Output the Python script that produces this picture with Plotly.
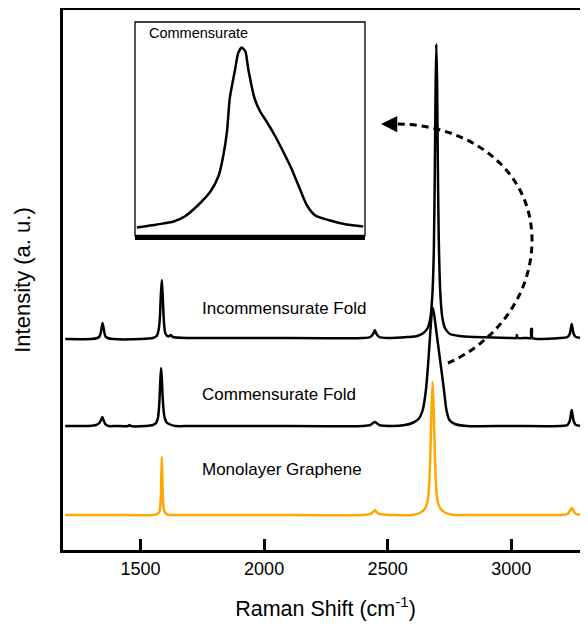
import plotly.graph_objects as go

# ---------------- data (Raman shift in cm^-1, intensity in a.u., offset stacked) -------------
inc_x = [1195,1300,1325,1335,1341,1346,1351,1357,1367,1390,1500,1550,1565,1573,1578,1582,1586,1590,1594,1599,
         1607,1617,1622,1630,1700,2000,2400,2430,2441,2448,2455,2466,2500,2580,2620,2645,2662,2673,2681,2687,
         2691,2694,2697,2700,2703,2707,2713,2721,2732,2752,2790,2850,3000,3020,3023,3026,3060,3079,3081,3084,
         3086,3200,3228,3237,3242,3245,3248,3253,3262,3320]
inc_y = [211,211,212,214,220,227,221,214,212,211,211,212,214,220,232,255,270,252,230,218,
         214,214,215,213,212,212,212,213,216,220,216,213,212,213,214,217,222,232,255,300,
         380,460,506,470,390,310,258,233,222,216,214,213,212,212,215,212,212,212,221,221,
         212,212,213,216,222,226,222,216,213,212]

com_x = [1195,1290,1320,1333,1340,1345,1350,1357,1370,1400,1450,1455,1460,1520,1550,1563,1571,1576,1580,1583,
         1586,1590,1596,1604,1615,1640,1700,2000,2400,2430,2441,2448,2455,2466,2520,2570,2600,2625,2642,2655,
         2663,2672,2679,2683,2688,2698,2707,2716,2727,2738,2750,2772,2820,3000,3200,3228,3237,3242,3245,3248,
         3253,3262,3320]
com_y = [124,124,125,127,130,133,130,126,124,124,124,125,124,124,125,127,133,148,170,182,
         172,150,134,128,126,124,124,124,124,125,127,128,127,125,124,125,127,131,140,160,
         183,215,238,242,236,217,200,183,162,140,130,126,124,124,124,125,129,136,140,136,
         129,125,124]

mono_x = [1195,1400,1550,1568,1576,1580,1583,1586,1589,1592,1596,1604,1620,1700,2000,2400,2430,2441,2448,2455,
          2466,2520,2600,2630,2650,2660,2667,2673,2677,2682,2687,2691,2697,2704,2715,2735,2770,2850,3100,3200,
          3228,3237,3242,3245,3248,3253,3262,3320]
mono_y = [35,35,35,36,38,44,62,93,64,45,39,36,35,35,35,35,36,38,40,38,
          36,35,35,37,41,47,60,97,135,168,135,97,60,47,41,37,35,35,35,35,
          36,39,41,42,41,39,36,35]

# inset: commensurate 2D band
ins_x = [2562,2584,2602,2614,2627,2642,2651,2656,2660,2663,2669,2672,2676,2680,2683,2690,2696,2703,2712,2721,
         2730,2739,2747,2756,2772,2790,2808]
ins_y = [8,11,14,19,29,44,60,80,104,137,167,182,188,184,167,137,124,114,100,84,
         67,47,30,20,15,11,9]

series_labels = ["Incommensurate Fold", "Commensurate Fold", "Monolayer Graphene"]
label_y = [242, 156, 81]
tick_vals = [1500, 2000, 2500, 3000]
inset_label = "Commensurate"

# ---------------- layout helpers ----------------
OFF = 8                      # page body margin of the browser
W, H = 588 - OFF, 626 - OFF
ML, MR, MT, MB = 63 - OFF, 0, 10 - OFF, 76
XR = [1186, 3311]
YR = [0, 540]
pw = W - ML - MR
ph = H - MT - MB

def px2x(px):               # px in page coordinates
    return XR[0] + (px - OFF - ML) * (XR[1] - XR[0]) / pw

def py2y(py):
    return YR[0] + (MT + ph - (py - OFF)) * (YR[1] - YR[0]) / ph

FONT = "Liberation Sans, Arial, Helvetica, sans-serif"
ORANGE = "#FFA600"

fig = go.Figure()
for xs, ys, col in [(inc_x, inc_y, "black"), (com_x, com_y, "black"), (mono_x, mono_y, ORANGE)]:
    fig.add_trace(go.Scatter(x=xs, y=ys, mode="lines",
                             line=dict(color=col, width=2.5, shape="spline", smoothing=0.6),
                             showlegend=False, hoverinfo="skip"))

fig.add_trace(go.Scatter(x=ins_x, y=ins_y, mode="lines", xaxis="x2", yaxis="y2",
                         line=dict(color="black", width=2.5, shape="spline", smoothing=0.6),
                         showlegend=False, hoverinfo="skip"))

for txt, yy in zip(series_labels, label_y):
    fig.add_annotation(x=px2x(200), y=yy, text=txt, showarrow=False, xanchor="left",
                       yanchor="middle", font=dict(size=17, color="black", family=FONT))

# inset label
fig.add_annotation(x=0.05, y=0.995, xref="x2 domain", yref="y2 domain", text=inset_label,
                   showarrow=False, xanchor="left", yanchor="top",
                   font=dict(size=14.5, color="black", family=FONT))

# inset frame
fig.add_shape(type="rect", x0=0, x1=1, y0=0, y1=1, xref="x2 domain", yref="y2 domain",
              line=dict(color="black", width=1.3), fillcolor="rgba(0,0,0,0)")

# dashed curved arrow
p = [(448, 363), (490, 345), (532, 300), (532, 240), (532, 170), (470, 124), (395, 124)]
q = [(px2x(a), py2y(b)) for a, b in p]
path = "M {},{} C {},{} {},{} {},{} C {},{} {},{} {},{}".format(*[v for pt in q for v in pt])
fig.add_shape(type="path", path=path, xref="x", yref="y",
              line=dict(color="black", width=3, dash="7px,5px"))
fig.add_annotation(x=px2x(381), y=py2y(124), ax=12, ay=0, xref="x", yref="y",
                   showarrow=True, arrowhead=2, arrowsize=1.3, arrowwidth=2.5,
                   arrowcolor="black", text="")

fig.update_layout(
    width=W, height=H,
    margin=dict(l=ML, r=MR, t=MT, b=MB),
    paper_bgcolor="white", plot_bgcolor="white",
    font=dict(family=FONT, color="black"),
    xaxis=dict(range=XR, tickvals=tick_vals, ticks="inside", ticklen=11, tickwidth=2.5,
               tickcolor="black", showline=True, linewidth=3, linecolor="black", mirror=True,
               showgrid=False, zeroline=False, tickfont=dict(size=18, family=FONT),
               title=dict(text="Raman Shift (cm<sup>-1</sup>)", font=dict(size=21.5, family=FONT),
                          standoff=24),
               automargin=False),
    yaxis=dict(range=YR, showticklabels=False, ticks="", showline=True, linewidth=3,
               linecolor="black", showgrid=False, zeroline=False,
               title=dict(text="Intensity (a. u.)", font=dict(size=22, family=FONT), standoff=24),
               automargin=False),
    xaxis2=dict(domain=[(135 - OFF - ML) / pw, (365 - OFF - ML) / pw], anchor="y2", range=[2560, 2810],
                showticklabels=False, ticks="", showline=True, linewidth=4, linecolor="black",
                showgrid=False, zeroline=False),
    yaxis2=dict(domain=[(MT + ph - (235.5 - OFF)) / ph, (MT + ph - (22 - OFF)) / ph], anchor="x2",
                range=[0, 213.5],
                showticklabels=False, ticks="", showline=False, showgrid=False, zeroline=False),
)

fig.write_html("out.html")
